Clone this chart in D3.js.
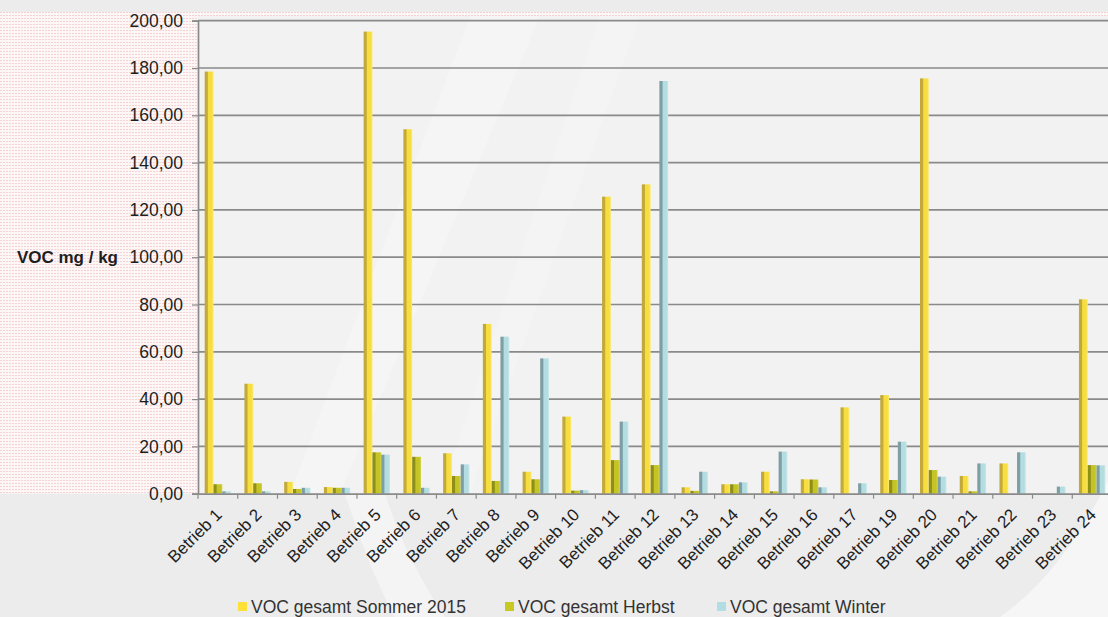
<!DOCTYPE html>
<html>
<head>
<meta charset="utf-8">
<script src="https://cdn.jsdelivr.net/npm/d3@7"></script>
<style>
  html, body { margin: 0; padding: 0; background: #ececec; }
  svg { display: block; font-family: "Liberation Sans", Arial, sans-serif; }
</style>
</head>
<body>
<svg id="chart" width="1108" height="617"></svg>
<script>
// Betriebe (no Betrieb 18 in the survey)
const categories = ["Betrieb 1","Betrieb 2","Betrieb 3","Betrieb 4","Betrieb 5","Betrieb 6","Betrieb 7",
  "Betrieb 8","Betrieb 9","Betrieb 10","Betrieb 11","Betrieb 12","Betrieb 13","Betrieb 14","Betrieb 15",
  "Betrieb 16","Betrieb 17","Betrieb 19","Betrieb 20","Betrieb 21","Betrieb 22","Betrieb 23","Betrieb 24"];

// VOC gesamt in mg/kg per season
const sommer2015 = [178.5, 46.5, 5.0, 2.8, 195.4, 154.1, 17.1, 71.8, 9.3, 32.6, 125.6, 130.8, 2.7, 4.0,
  9.3, 6.1, 36.5, 41.7, 175.6, 7.5, 12.8, 0, 82.2];
const herbst = [4.0, 4.4, 2.0, 2.5, 17.5, 15.6, 7.5, 5.4, 6.1, 1.3, 14.2, 12.1, 1.2, 4.0,
  1.0, 6.0, 0, 5.8, 10.0, 1.0, 0, 0, 12.1];
const winter = [1.0, 1.0, 2.5, 2.5, 16.5, 2.5, 12.4, 66.4, 57.2, 1.5, 30.5, 174.5, 9.3, 4.8,
  17.8, 2.7, 4.4, 22.0, 7.2, 12.8, 17.5, 3.0, 12.0];

const seriesNames = ["VOC gesamt Sommer 2015", "VOC gesamt Herbst", "VOC gesamt Winter"];
const yTicks = [0, 20, 40, 60, 80, 100, 120, 140, 160, 180, 200];

const svg = d3.select("#chart");
const W = 1108, H = 617;
const plot = { left: 198, right: 1112, top: 20.7, bottom: 493.7 };

// bar shading: darker left edge, bright body
const shades = [
  { id: "gS", dark: "#c2a93a", main: "#f7de40", light: "#fbe97a", legend: "#fde03a" },
  { id: "gH", dark: "#8f8f18", main: "#c4c426", light: "#d2d24a", legend: "#c8c822" },
  { id: "gW", dark: "#7c9ea4", main: "#b3dde1", light: "#cbe8ea", legend: "#b2dde2" }
];

const defs = svg.append("defs");
shades.forEach(s => {
  const g = defs.append("linearGradient").attr("id", s.id)
    .attr("x1", "0").attr("x2", "1").attr("y1", "0").attr("y2", "0");
  g.append("stop").attr("offset", "0").attr("stop-color", s.dark);
  g.append("stop").attr("offset", "0.3").attr("stop-color", s.dark);
  g.append("stop").attr("offset", "0.42").attr("stop-color", s.main);
  g.append("stop").attr("offset", "0.8").attr("stop-color", s.main);
  g.append("stop").attr("offset", "1").attr("stop-color", s.light);
});
const dots = defs.append("pattern").attr("id", "dots")
  .attr("width", 3).attr("height", 3).attr("patternUnits", "userSpaceOnUse");
dots.append("rect").attr("width", 3).attr("height", 3).attr("fill", "#fdf6f6");
dots.append("rect").attr("width", 2).attr("height", 1).attr("fill", "#f5d3d3");

// background
svg.append("rect").attr("width", W).attr("height", H).attr("fill", "#ececec");
svg.append("rect").attr("x", 0).attr("y", 12).attr("width", W).attr("height", plot.bottom - 12)
  .attr("fill", "url(#dots)");
svg.append("rect").attr("x", plot.left).attr("y", 16)
  .attr("width", W - plot.left).attr("height", plot.bottom - 16).attr("fill", "#f2f2f2");

// faint watermark swooshes
const wm = svg.append("g").attr("fill", "#ffffff");
wm.append("path").attr("d", "M470,16 L540,16 L340,494 L290,494 Z").attr("opacity", 0.22);
wm.append("path").attr("d", "M600,16 L640,16 L470,494 L440,494 Z").attr("opacity", 0.18);
wm.append("path").attr("d", "M345,494 L385,494 C400,540 420,580 445,617 L395,617 C375,580 360,540 345,494 Z")
  .attr("opacity", 0.45);
wm.append("path").attr("d", "M1108,480 L1108,617 L1000,617 C1045,585 1082,535 1108,480 Z").attr("opacity", 0.5);

const x = d3.scaleBand().domain(categories).range([plot.left, plot.right]).paddingInner(0).paddingOuter(0);
const xs = d3.scaleBand().domain(seriesNames).range([0, x.bandwidth()]).paddingInner(0).paddingOuter(0.76);
const y = d3.scaleLinear().domain([0, 200]).range([plot.bottom, plot.top]);

// gridlines
svg.append("g").selectAll("line").data(yTicks.filter(v => v > 0)).join("line")
  .attr("x1", plot.left).attr("x2", W)
  .attr("y1", d => y(d)).attr("y2", d => y(d))
  .attr("stroke", "#8a8a8a").attr("stroke-width", 1.7);

// bars
const table = categories.map((c, i) => ({ cat: c, vals: [sommer2015[i], herbst[i], winter[i]] }));
const groups = svg.append("g").selectAll("g").data(table).join("g")
  .attr("transform", d => `translate(${x(d.cat)},0)`);
groups.selectAll("rect").data(d => d.vals.map((v, k) => ({ v, k }))).join("rect")
  .attr("x", d => xs(seriesNames[d.k]))
  .attr("width", xs.bandwidth())
  .attr("y", d => y(d.v))
  .attr("height", d => y(0) - y(d.v))
  .attr("fill", d => `url(#${shades[d.k].id})`);

// y axis
const yAxis = d3.axisLeft(y).tickValues(yTicks).tickSize(6).tickPadding(9)
  .tickFormat(d => d3.format(".2f")(d).replace(".", ","));
const gy = svg.append("g").attr("transform", `translate(${plot.left},0)`).call(yAxis);
gy.select(".domain").attr("stroke", "#8a8a8a").attr("stroke-width", 1.7);
gy.selectAll(".tick line").attr("stroke", "#8a8a8a").attr("stroke-width", 1.2);
gy.selectAll(".tick text").attr("font-size", 17.5).attr("fill", "#1e1e1e")
  .attr("font-family", "'Liberation Sans', Arial, sans-serif");

// x axis
const xAxis = d3.axisBottom(x).tickSize(0).tickFormat("");
const gx = svg.append("g").attr("transform", `translate(0,${plot.bottom})`).call(xAxis);
gx.select(".domain").attr("stroke", "#8a8a8a").attr("stroke-width", 1.7);
// tick marks at band boundaries
svg.append("g").selectAll("line").data(categories).join("line")
  .attr("x1", d => x(d)).attr("x2", d => x(d))
  .attr("y1", plot.bottom).attr("y2", plot.bottom + 5)
  .attr("stroke", "#8a8a8a").attr("stroke-width", 1.2);
svg.append("g").selectAll("text").data(categories).join("text")
  .attr("transform", d => `translate(${x(d) + x.bandwidth() / 2 + 5},${plot.bottom + 22}) rotate(-45)`)
  .attr("text-anchor", "end")
  .attr("font-size", 17).attr("fill", "#1e1e1e")
  .text(d => d);

// y axis title
svg.append("text").attr("x", 118).attr("y", y(100)).attr("dy", "0.35em")
  .attr("text-anchor", "end").attr("font-size", 17).attr("font-weight", "bold")
  .attr("fill", "#1e1e1e").text("VOC mg / kg");

// legend
const legendX = [238, 505, 717];
const lg = svg.append("g").selectAll("g").data(seriesNames).join("g")
  .attr("transform", (d, i) => `translate(${legendX[i]},606.5)`);
lg.append("rect").attr("x", 0).attr("y", -4.5).attr("width", 9).attr("height", 9)
  .attr("fill", (d, i) => shades[i].legend);
lg.append("text").attr("x", 13).attr("dy", "0.35em").attr("font-size", 17.5)
  .attr("fill", "#333").text(d => d);
</script>
</body>
</html>
